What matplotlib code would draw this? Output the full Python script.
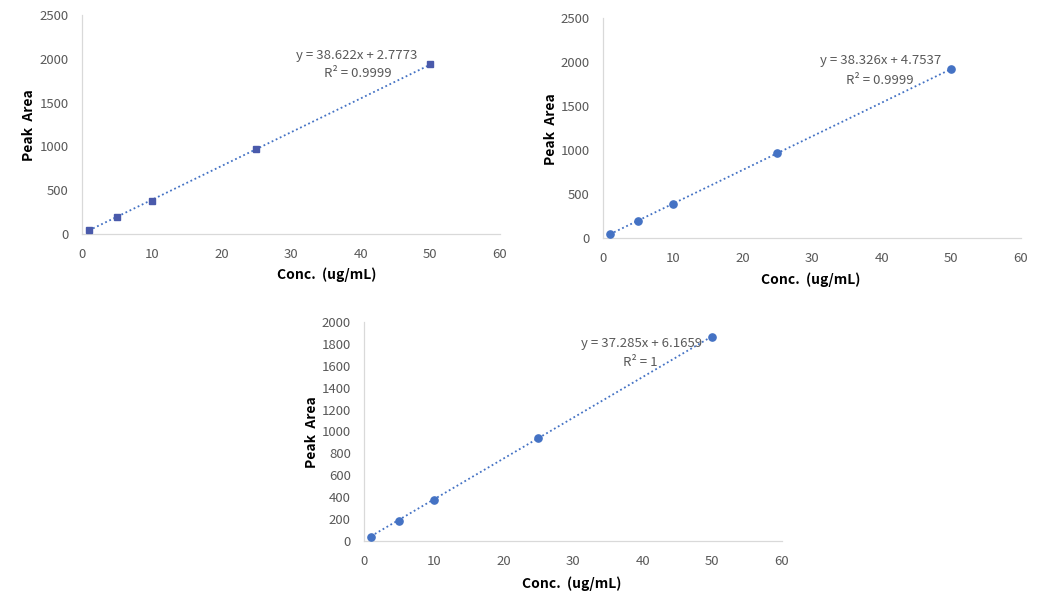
import matplotlib
matplotlib.use("Agg")
import matplotlib.pyplot as plt
import numpy as np

plt.rcParams['font.family'] = ['Noto Sans CJK KR', 'DejaVu Sans']

conc = [1, 5, 10, 25, 50]
area1 = [45, 192, 378, 968, 1935]
area2 = [42, 190, 383, 969, 1917]
area3 = [38, 185, 377, 938, 1866]

slopes = [38.622, 38.326, 37.285]
intercepts = [2.7773, 4.7537, 6.1659]
eq_texts = ["y = 38.622x + 2.7773", "y = 38.326x + 4.7537", "y = 37.285x + 6.1659"]
r2_texts = ["R² = 0.9999", "R² = 0.9999", "R² = 1"]

xticks = [0, 10, 20, 30, 40, 50, 60]
yticks12 = [0, 500, 1000, 1500, 2000, 2500]
yticks3 = [0, 200, 400, 600, 800, 1000, 1200, 1400, 1600, 1800, 2000]

W, H = 1042, 611
fig = plt.figure(figsize=(W / 100, H / 100), dpi=100)

def add_ax(left, top, right, bottom):
    return fig.add_axes([left / W, 1 - bottom / H, (right - left) / W, (bottom - top) / H])

panels = [
    dict(box=(82, 15, 500, 234), y=area1, yticks=yticks12, ymax=2500, marker='s', mcolor='#4a5aab', ms=4.8,
         eq=(0.658, 0.813), r2=(0.66, 0.735), xl=(0.586, -0.187), yl=(-0.126, 0.498)),
    dict(box=(603, 18, 1021, 238), y=area2, yticks=yticks12, ymax=2500, marker='o', mcolor='#4472C4', ms=5.2,
         eq=(0.663, 0.809), r2=(0.663, 0.718), xl=(0.498, -0.19), yl=(-0.125, 0.495)),
    dict(box=(364, 322, 782, 541), y=area3, yticks=yticks3, ymax=2000, marker='o', mcolor='#4472C4', ms=5.2,
         eq=(0.663, 0.904), r2=(0.66, 0.813), xl=(0.498, -0.196), yl=(-0.125, 0.495)),
]

tick_color = '#595959'
for i, p in enumerate(panels):
    ax = add_ax(*p['box'])
    xs = np.array([conc[0], conc[-1]], dtype=float)
    ax.plot(xs, slopes[i] * xs + intercepts[i], linestyle=(0, (1, 1.5)), color='#4472C4', lw=1.3, zorder=2)
    ax.plot(conc, p['y'], linestyle='none', marker=p['marker'], color=p['mcolor'],
            markersize=p['ms'], zorder=3)
    ax.set_xlim(0, 60)
    ax.set_ylim(0, p['ymax'])
    ax.set_xticks(xticks)
    ax.set_yticks(p['yticks'])
    ax.tick_params(length=0, labelsize=9.5, labelcolor=tick_color)
    ax.tick_params(axis='x', pad=10)
    ax.tick_params(axis='y', pad=9.5)
    for s in ['top', 'right']:
        ax.spines[s].set_visible(False)
    for s in ['left', 'bottom']:
        ax.spines[s].set_color('#d9d9d9')
        ax.spines[s].set_linewidth(0.9)
    ax.set_xlabel('Conc.  (ug/mL)', fontsize=10, fontweight='bold', color='black')
    ax.xaxis.set_label_coords(*p['xl'])
    ax.xaxis.label.set_va('center')
    ax.set_ylabel('Peak  Area', fontsize=10, fontweight='bold', color='black')
    ax.yaxis.set_label_coords(*p['yl'])
    ax.yaxis.label.set_va('center')
    ax.text(p['eq'][0], p['eq'][1], eq_texts[i], transform=ax.transAxes, ha='center', va='center',
            fontsize=9.5, color=tick_color)
    ax.text(p['r2'][0], p['r2'][1], r2_texts[i], transform=ax.transAxes, ha='center', va='center',
            fontsize=9.5, color=tick_color)

fig.savefig('out.png', dpi=100)
